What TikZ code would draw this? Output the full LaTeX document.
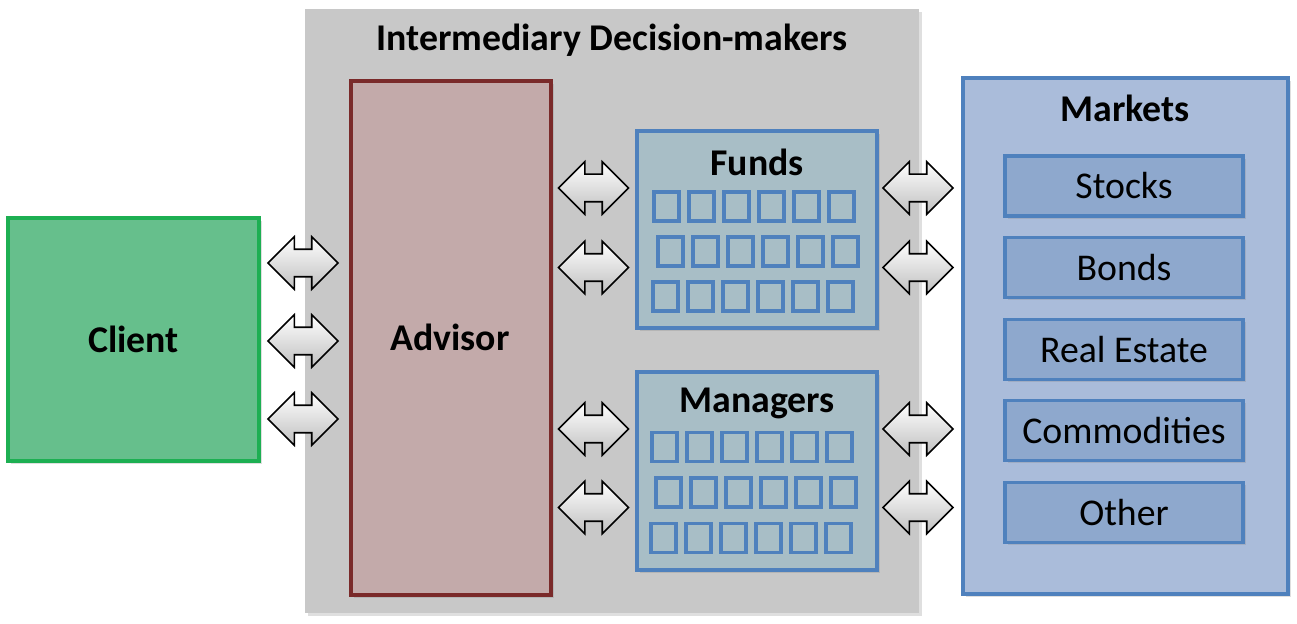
\documentclass[tikz,border=0pt]{standalone}
\usepackage{fontspec}
\setmainfont{Carlito}
\usetikzlibrary{shapes.arrows,shadows}
\definecolor{panelgray}{HTML}{C8C8C8}
\definecolor{clientgreen}{HTML}{66BF8C}
\definecolor{clientedge}{HTML}{1DAF52}
\definecolor{advisorrose}{HTML}{C3AAAA}
\definecolor{advisoredge}{HTML}{7A2A2A}
\definecolor{fundteal}{HTML}{A8BEC6}
\definecolor{officeblue}{HTML}{4F81BD}
\definecolor{marketblue}{HTML}{AABCDA}
\definecolor{itemblue}{HTML}{8EA8CD}

\tikzset{
  box/.style={rectangle, line width=1.8pt, inner sep=0pt,
    drop shadow={shadow xshift=1.5pt, shadow yshift=-1.5pt, opacity=0.25}},
  label/.style={font=\fontsize{21.5}{25}\selectfont\bfseries},
  item/.style={box, draw=officeblue, fill=itemblue, minimum width=4.76cm,
    minimum height=1.2cm, font=\fontsize{21.5}{25}\selectfont},
  slot/.style={rectangle, draw=officeblue, line width=2pt, inner sep=0pt,
    minimum width=0.5cm, minimum height=0.58cm},
  dblarrow/.style={double arrow, draw=black, line width=0.9pt,
    inner xsep=0pt, inner ysep=0.26cm,
    top color=white, bottom color=gray!50, minimum height=1.4cm,
    double arrow head extend=0.25cm, double arrow tip angle=90}
}

\begin{document}
\begin{tikzpicture}[x=0.02cm, y=-0.02cm]
      \useasboundingbox (0,0) rectangle (1297,624);

      % Intermediary panel
      \node[box, fill=panelgray, minimum width=12.28cm, minimum height=12.08cm] (panel) at (612,311) {};
      \node[label] (paneltitle) at (612,40) {Intermediary Decision-makers};

      % Client and advisor
      \node[box, draw=clientedge, fill=clientgreen, minimum width=5.02cm, minimum height=4.86cm] (client) at (133.5,339.5) {};
      \node[label] (clientlabel) at (client.center) {Client};

      \node[box, draw=advisoredge, fill=advisorrose, minimum width=4cm, minimum height=10.28cm] (advisor) at (451,338) {};
      \node[label] (advisorlabel) at (450,337) {Advisor};

      % Funds and managers
      \node[box, draw=officeblue, fill=fundteal, minimum width=4.8cm, minimum height=3.94cm] (funds) at (757,229.5) {};
      \node[label] (fundslabel) at (757,162) {Funds};

      \node[box, draw=officeblue, fill=fundteal, minimum width=4.8cm, minimum height=3.96cm] (managers) at (757,471) {};
      \node[label] (managerslabel) at (757,403) {Managers};

      \foreach \row/\dx in {0/0,1/4,2/-1} {
        \foreach \col in {0,...,5} {
          \node[slot] (fund-\row-\col) at (666.5+\dx+35*\col,206.5+45*\row) {};
          \node[slot] (mgr-\row-\col) at (664.5+\dx+35*\col,447+45.5*\row) {};
        }
      }

      % Markets
      \node[box, draw=officeblue, fill=marketblue, minimum width=6.5cm, minimum height=10.32cm] (markets) at (1125.5,336) {};
      \node[label] (marketslabel) at (1125,108) {Markets};

      \foreach \name [count=\i from 0] in {Stocks,Bonds,Real Estate,Commodities,Other} {
        \node[item] (market-\i) at (1124,186+81.6*\i) {\name};
      }

      % Exchange arrows
      \foreach \y [count=\i] in {263,341,419} {
        \node[dblarrow] (clientlink-\i) at (303,\y) {};
      }
      \foreach \y [count=\i] in {188,267.5,429,507.5} {
        \node[dblarrow] (advisorlink-\i) at (593.5,\y) {};
        \node[dblarrow] (marketlink-\i) at (918,\y) {};
      }
    \end{tikzpicture}
\end{document}
